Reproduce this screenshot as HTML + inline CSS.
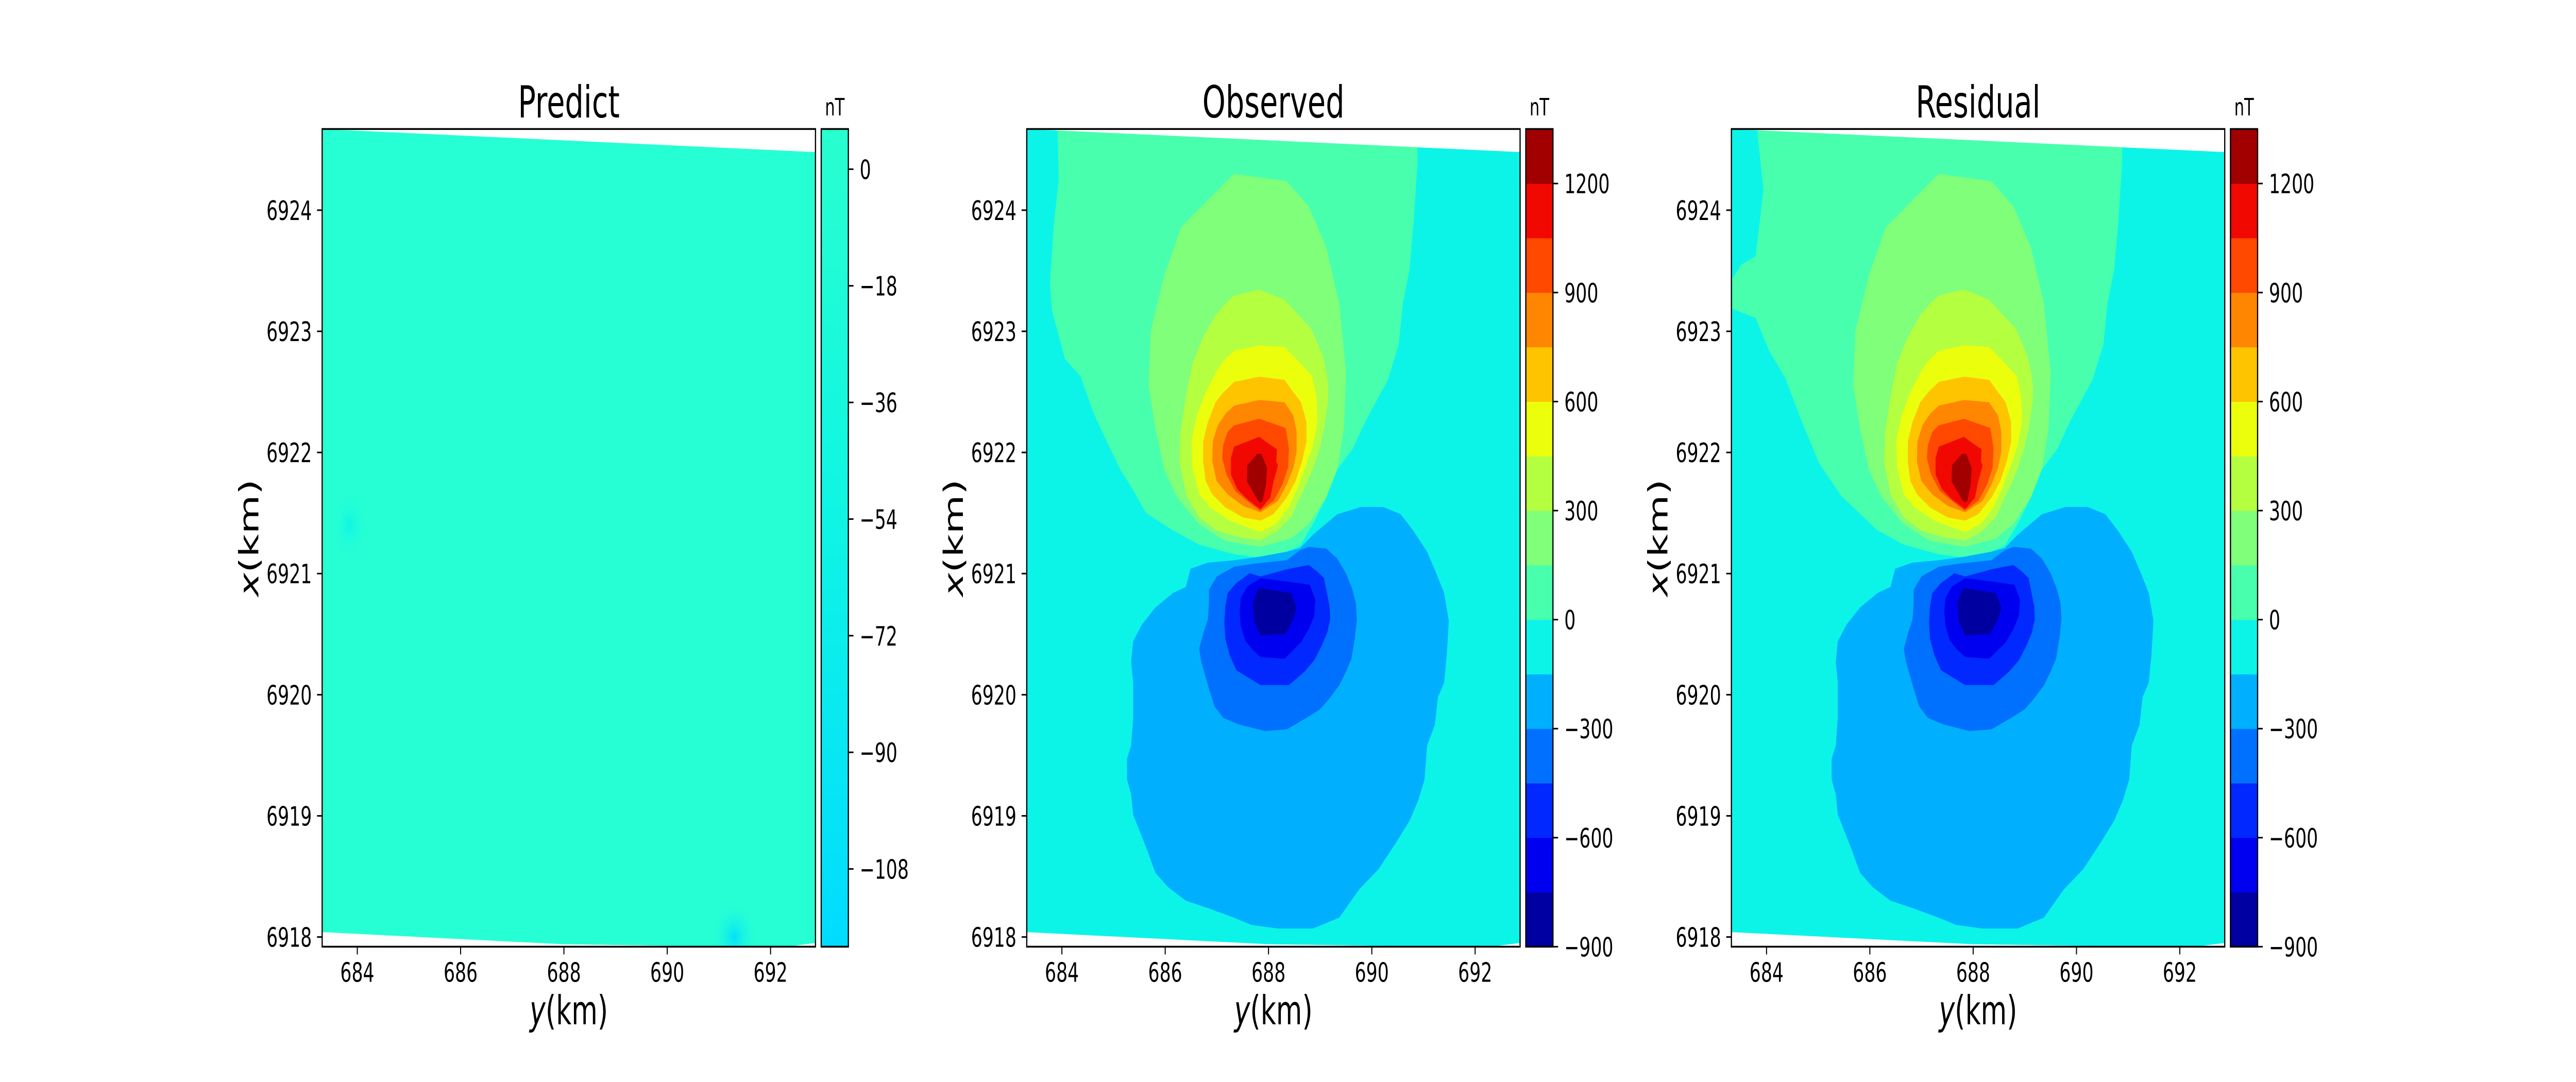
<!DOCTYPE html>
<html><head><meta charset="utf-8"><style>
html,body{margin:0;padding:0;background:#fff;overflow:hidden;width:100%;height:100%;}
svg{display:block;width:100vw;height:100vh;}
text{font-family:"DejaVu Sans","Liberation Sans",sans-serif;fill:#000;}
</style></head><body>
<svg id="fig" xmlns="http://www.w3.org/2000/svg" viewBox="0 0 7500 2100" preserveAspectRatio="none">
<defs>
<linearGradient id="predCb" x1="0" y1="0" x2="0" y2="1">
<stop offset="0" stop-color="#28ffcf"/><stop offset="0.45" stop-color="#0ff6e3"/><stop offset="1" stop-color="#00dcff"/>
</linearGradient>
<radialGradient id="spot1"><stop offset="0" stop-color="#00dcff" stop-opacity="0.9"/><stop offset="1" stop-color="#26ffd4" stop-opacity="0"/></radialGradient>
<radialGradient id="spot2"><stop offset="0" stop-color="#0cf4e6" stop-opacity="0.9"/><stop offset="1" stop-color="#26ffd4" stop-opacity="0"/></radialGradient>
</defs>
</svg>
<script>
// ---- data (km coordinates: [y(km), x(km)]) ----
const yRange = [683.32, 692.87];
const xRange = [6917.92, 6924.67];
const yTicks = [684, 686, 688, 690, 692];
const xTicks = [6918, 6919, 6920, 6921, 6922, 6923, 6924];
const dataBoundary = [[683.32,6924.67],[692.87,6924.48],[692.87,6917.95],[692.4,6917.925],[690.5,6917.925],[688,6917.94],[683.32,6918.04]];
const levelEdges = [-900,-750,-600,-450,-300,-150,0,150,300,450,600,750,900,1050,1200,1350];
const levelColors = ['#0000a0','#0000f1','#0028ff','#0070ff','#00b0ff','#0cf4e8','#48ffae','#7fff7a','#b5ff41','#ebff0c','#ffc400','#ff8600','#ff4800','#f10800','#a00000'];
const cbTicksObs = [-900,-600,-300,0,300,600,900,1200];
const cbTicksPred = [0,-18,-36,-54,-72,-90,-108];
const predRange = [-120, 6.2];
const predSpots = [[691.3,6918.0,0.45,0.3,'spot1'],[683.85,6921.4,0.35,0.3,'spot2']];

const obsAqua = [[683.89,6925.2],[690.90,6925.2],[690.88,6924.37],[690.81,6923.91],[690.73,6923.51],[690.60,6923.23],[690.52,6922.89],[690.31,6922.60],[689.88,6922.26],[689.63,6922.03],[689.33,6921.86],[689.12,6921.63],[688.86,6921.41],[688.61,6921.23],[688.18,6921.15],[687.84,6921.13],[687.33,6921.16],[686.65,6921.24],[686.14,6921.36],[685.63,6921.50],[685.38,6921.69],[685.13,6921.86],[684.87,6922.09],[684.62,6922.32],[684.36,6922.63],[684.06,6922.77],[683.81,6923.17],[683.77,6923.40],[683.85,6923.91],[683.94,6924.25]];
const resAqua = [[683.83,6925.2],[690.90,6925.2],[690.88,6924.37],[690.81,6923.91],[690.73,6923.51],[690.60,6923.23],[690.52,6922.89],[690.31,6922.60],[689.88,6922.26],[689.63,6922.03],[689.33,6921.86],[689.12,6921.63],[688.86,6921.41],[688.61,6921.23],[688.18,6921.15],[687.84,6921.13],[687.33,6921.16],[686.65,6921.24],[686.14,6921.36],[685.45,6921.64],[685.02,6921.91],[684.66,6922.28],[684.37,6922.61],[684.05,6922.84],[683.79,6923.11],[683.2,6923.21],[683.2,6923.44],[683.35,6923.44],[683.51,6923.55],[683.79,6923.62],[683.94,6924.17],[683.83,6924.61]];
const green = [[687.33,6924.30],[688.35,6924.24],[688.78,6924.03],[689.12,6923.69],[689.37,6923.23],[689.50,6922.66],[689.46,6922.20],[689.33,6921.86],[689.12,6921.63],[688.78,6921.41],[688.44,6921.29],[687.84,6921.22],[687.16,6921.27],[686.65,6921.41],[686.23,6921.63],[685.98,6921.86],[685.81,6922.20],[685.68,6922.55],[685.72,6923.00],[685.98,6923.46],[686.31,6923.86]];
const yelGreen = [[687.336,6923.296],[687.823,6923.345],[688.311,6923.261],[688.608,6923.120],[688.820,6923.025],[688.947,6922.902],[689.053,6922.794],[689.117,6922.672],[689.159,6922.550],[689.151,6922.414],[689.075,6922.197],[688.990,6922.034],[688.863,6921.871],[688.735,6921.736],[688.608,6921.627],[688.438,6921.464],[688.142,6921.342],[687.845,6921.274],[687.421,6921.301],[686.997,6921.356],[686.657,6921.464],[686.403,6921.654],[686.276,6921.925],[686.297,6922.170],[686.403,6922.468],[686.530,6922.740],[686.742,6922.957],[686.975,6923.133],[687.166,6923.228]];
const yellow = [[687.336,6922.840],[687.823,6922.883],[688.311,6922.870],[688.608,6922.740],[688.841,6922.631],[688.926,6922.468],[688.947,6922.251],[688.863,6922.061],[688.735,6921.898],[688.566,6921.708],[688.396,6921.546],[688.142,6921.410],[687.845,6921.342],[687.590,6921.383],[687.251,6921.437],[686.869,6921.546],[686.657,6921.654],[686.530,6921.871],[686.509,6922.088],[686.615,6922.305],[686.784,6922.495],[686.997,6922.672],[687.124,6922.753]];
const amber = [[687.336,6922.582],[687.823,6922.626],[688.311,6922.599],[688.438,6922.523],[688.629,6922.414],[688.735,6922.251],[688.735,6922.088],[688.650,6921.926],[688.523,6921.763],[688.354,6921.627],[688.099,6921.491],[687.845,6921.437],[687.506,6921.464],[687.166,6921.546],[686.912,6921.654],[686.784,6921.763],[686.734,6921.926],[686.734,6922.088],[686.827,6922.251],[686.975,6922.414],[687.124,6922.495]];
const orange = [[687.336,6922.387],[687.823,6922.433],[688.311,6922.414],[688.481,6922.305],[688.544,6922.170],[688.544,6922.007],[688.481,6921.871],[688.354,6921.736],[688.184,6921.600],[687.845,6921.505],[687.506,6921.559],[687.209,6921.654],[686.997,6921.763],[686.912,6921.926],[686.920,6922.088],[687.018,6922.224],[687.166,6922.319]];
const orangeRed = [[687.336,6922.224],[687.823,6922.278],[688.332,6922.202],[688.396,6922.034],[688.375,6921.871],[688.269,6921.736],[688.099,6921.600],[687.836,6921.519],[687.590,6921.600],[687.357,6921.681],[687.187,6921.817],[687.103,6921.953],[687.124,6922.061],[687.209,6922.170]];
const red = [[687.336,6922.048],[687.823,6922.129],[687.951,6922.088],[688.163,6922.026],[688.150,6921.926],[688.184,6921.893],[688.099,6921.763],[688.036,6921.627],[687.845,6921.532],[687.590,6921.613],[687.399,6921.695],[687.272,6921.817],[687.272,6921.953]];
const darkRed = [[687.590,6921.893],[687.781,6921.988],[687.866,6921.988],[687.972,6921.871],[687.951,6921.736],[687.887,6921.600],[687.836,6921.586],[687.781,6921.613],[687.582,6921.763]];
const skyBlue = [[686.49,6921.04],[686.82,6921.09],[687.33,6921.11],[687.84,6921.14],[688.35,6921.18],[688.61,6921.21],[688.86,6921.32],[689.33,6921.49],[689.79,6921.55],[690.22,6921.55],[690.56,6921.49],[690.81,6921.35],[691.07,6921.18],[691.24,6921.01],[691.40,6920.84],[691.49,6920.61],[691.45,6920.32],[691.40,6920.10],[691.28,6919.98],[691.22,6919.75],[691.07,6919.58],[691.02,6919.30],[690.90,6919.13],[690.73,6918.96],[690.47,6918.78],[690.13,6918.56],[689.75,6918.39],[689.37,6918.16],[688.86,6918.07],[688.18,6918.07],[687.67,6918.10],[687.33,6918.16],[686.82,6918.24],[686.40,6918.30],[686.06,6918.41],[685.81,6918.53],[685.64,6918.73],[685.38,6919.01],[685.34,6919.18],[685.26,6919.30],[685.26,6919.47],[685.34,6919.58],[685.38,6919.81],[685.38,6920.10],[685.34,6920.27],[685.38,6920.44],[685.55,6920.58],[685.81,6920.72],[686.15,6920.84],[686.40,6920.89]];
const blue1 = [[686.848,6920.867],[686.997,6920.976],[687.336,6921.057],[687.760,6921.084],[688.354,6921.111],[688.608,6921.193],[688.778,6921.220],[689.117,6921.206],[689.329,6921.125],[689.499,6921.003],[689.626,6920.867],[689.689,6920.759],[689.711,6920.623],[689.668,6920.460],[689.605,6920.297],[689.499,6920.189],[689.372,6920.080],[689.159,6919.958],[688.990,6919.877],[688.735,6919.809],[688.354,6919.714],[687.929,6919.700],[687.421,6919.755],[687.124,6919.809],[686.954,6919.904],[686.827,6920.080],[686.700,6920.270],[686.657,6920.379],[686.742,6920.514],[686.827,6920.623],[686.848,6920.759]];
const blue2 = [[687.209,6920.840],[687.378,6920.921],[687.633,6921.003],[687.845,6920.976],[688.354,6921.035],[688.778,6921.071],[688.947,6921.016],[689.075,6920.962],[689.117,6920.867],[689.181,6920.732],[689.193,6920.623],[689.138,6920.514],[689.032,6920.406],[688.884,6920.284],[688.693,6920.189],[688.396,6920.080],[687.845,6920.080],[687.378,6920.202],[687.251,6920.324],[687.166,6920.460],[687.145,6920.596],[687.166,6920.732]];
const blue3 = [[687.463,6920.799],[687.590,6920.894],[687.845,6920.962],[688.354,6920.935],[688.799,6920.908],[688.905,6920.786],[688.884,6920.650],[688.778,6920.541],[688.629,6920.433],[688.311,6920.297],[687.845,6920.311],[687.675,6920.379],[687.548,6920.447],[687.463,6920.569],[687.442,6920.691]];
const navy = [[687.696,6920.759],[687.802,6920.881],[688.438,6920.840],[688.544,6920.718],[688.481,6920.623],[688.332,6920.501],[687.845,6920.487],[687.718,6920.609]];

// ---- layout ----
const NS = 'http://www.w3.org/2000/svg';
const svg = document.getElementById('fig');
const defs = svg.querySelector('defs');
const TOP = 250.4, BOT = 1837.4, PW = 1436.3;
const panels = [
  {name:'predict', title:'Predict', L:938},
  {name:'observed', title:'Observed', L:2989.4},
  {name:'residual', title:'Residual', L:5041}
];
function mk(tag, attrs, parent){ const e=document.createElementNS(NS,tag); for(const k in attrs) e.setAttribute(k,attrs[k]); (parent||svg).appendChild(e); return e; }
function sxF(L){ return v => L + (v-yRange[0])/(yRange[1]-yRange[0])*PW; }
function sy(v){ return TOP + (xRange[1]-v)/(xRange[1]-xRange[0])*(BOT-TOP); }
function pts(poly, sx){ return poly.map(p => sx(p[0]).toFixed(1)+','+sy(p[1]).toFixed(1)).join(' '); }

const levelPolys = [
  {poly:null, lvl:6}, {poly:green, lvl:7}, {poly:yelGreen, lvl:8}, {poly:yellow, lvl:9}, {poly:amber, lvl:10},
  {poly:orange, lvl:11}, {poly:orangeRed, lvl:12}, {poly:red, lvl:13}, {poly:darkRed, lvl:14},
  {poly:skyBlue, lvl:4}, {poly:blue1, lvl:3}, {poly:blue2, lvl:2}, {poly:blue3, lvl:1}, {poly:navy, lvl:0}
];

panels.forEach((P, pi) => {
  const sx = sxF(P.L);
  const g = mk('g', {});
  
  
  const cp = mk('clipPath', {id:'clip'+pi}, defs);
  mk('polygon', {points: pts(dataBoundary, sx)}, cp);
  const field = mk('g', {'clip-path':'url(#clip'+pi+')'}, g);
  
  
  if (P.name === 'predict') {
    const bg = mk('polygon', {points: pts(dataBoundary, sx), fill:'#26ffd4'}, field);
    
    
    predSpots.forEach(s => {
      const e = mk('ellipse', {cx: sx(s[0]), cy: sy(s[1]), rx: s[2]/(yRange[1]-yRange[0])*PW, ry: s[3]/(xRange[1]-xRange[0])*(BOT-TOP), fill:'url(#'+s[4]+')'}, field);
      
      
    });
  } else {
    const bg = mk('polygon', {points: pts(dataBoundary, sx), fill: levelColors[5]}, field);
    
    
    levelPolys.forEach(lp => {
      const poly = lp.poly || (P.name === 'observed' ? obsAqua : resAqua);
      const e = mk('polygon', {points: pts(poly, sx), fill: levelColors[lp.lvl]}, field);
      
      
    });
  }
  const fr = mk('rect', {x:P.L, y:TOP, width:PW, height:BOT-TOP, fill:'none', stroke:'#000', 'stroke-width':3.5}, g);
  
  
  yTicks.forEach(t => {
    const x = sx(t);
    const tk = mk('line', {x1:x, x2:x, y1:BOT, y2:BOT+15, stroke:'#000', 'stroke-width':3}, g);
    
    
    const tx = mk('text', {x:x, y:BOT+68, 'font-size':52, 'text-anchor':'middle'}, g);
    tx.textContent = t;
    
    
  });
  xTicks.forEach(t => {
    const y = sy(t);
    const tk = mk('line', {x1:P.L-15, x2:P.L, y1:y, y2:y, stroke:'#000', 'stroke-width':3}, g);
    
    
    const tx = mk('text', {x:P.L-30, y:y+19, 'font-size':52, 'text-anchor':'end'}, g);
    tx.textContent = t;
    
    
  });
  const xl = mk('text', {x:P.L+PW/2, y:1988, 'font-size':78, 'text-anchor':'middle'}, g);
  xl.innerHTML = '<tspan font-style="italic">y</tspan>(km)';
  
  
  const yl = mk('text', {x:0, y:0, 'font-size':78, 'text-anchor':'middle', transform:'translate('+(P.L-186)+',1044) rotate(-90)'}, g);
  yl.innerHTML = '<tspan font-style="italic">x</tspan>(km)';
  
  
  const ti = mk('text', {x:P.L+PW/2, y:228, 'font-size':86, 'text-anchor':'middle'}, g);
  ti.textContent = P.title;
  
  
  const cbL = P.L + 1453, cbW = 79;
  const cb = mk('g', {}, g);
  
  
  let cbScale, ticks;
  if (P.name === 'predict') {
    cbScale = v => TOP + (predRange[1]-v)/(predRange[1]-predRange[0])*(BOT-TOP);
    const r = mk('rect', {x:cbL, y:TOP, width:cbW, height:BOT-TOP, fill:'url(#predCb)'}, cb);
    
    
    ticks = cbTicksPred;
  } else {
    const lo = levelEdges[0], hi = levelEdges[levelEdges.length-1];
    cbScale = v => TOP + (hi-v)/(hi-lo)*(BOT-TOP);
    levelColors.forEach((c, i) => {
      const y1 = cbScale(levelEdges[i+1]), y2 = cbScale(levelEdges[i]);
      const r = mk('rect', {x:cbL, y:y1, width:cbW, height:y2-y1+0.5, fill:c}, cb);
      
      
    });
    ticks = cbTicksObs;
  }
  mk('rect', {x:cbL, y:TOP, width:cbW, height:BOT-TOP, fill:'none', stroke:'#000', 'stroke-width':3.5}, cb);
  ticks.forEach(t => {
    const y = cbScale(t);
    const tk = mk('line', {x1:cbL+cbW, x2:cbL+cbW+15, y1:y, y2:y, stroke:'#000', 'stroke-width':3}, cb);
    
    
    const tx = mk('text', {x:cbL+cbW+33, y:y+19, 'font-size':52}, cb);
    tx.textContent = String(t).replace('-', '\u2212');
    
    
  });
  const un = mk('text', {x:cbL+cbW/2, y:224, 'font-size':46, 'text-anchor':'middle'}, cb);
  un.textContent = 'nT';
  
  
});
</script>
</body></html>
